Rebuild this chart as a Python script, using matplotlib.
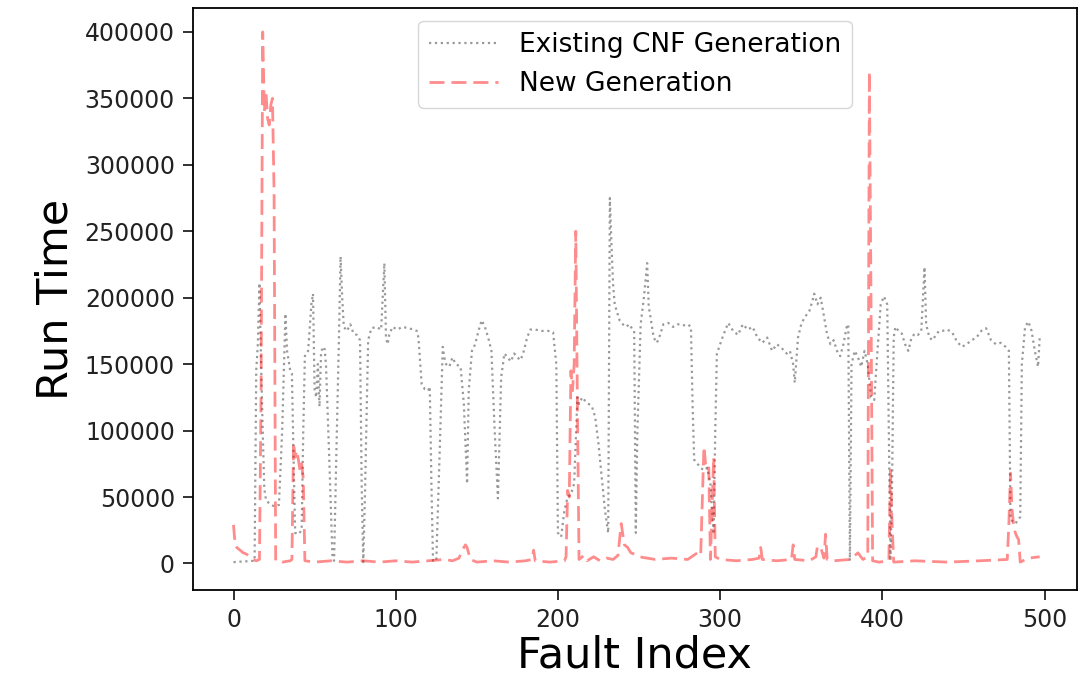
import numpy as np
import matplotlib
matplotlib.use("Agg")
import matplotlib.pyplot as plt

# run times in thousands at the visible break points
old_x = [0, 13, 14, 15, 16, 17, 18, 19, 20, 22, 25, 28, 30, 32, 33, 35, 36, 37, 38, 40, 42, 43, 44, 46, 48, 49,
         50, 51, 52, 53, 54, 56, 57, 59, 61, 62, 63, 65, 66, 67, 68, 70, 72, 74, 76, 78, 79, 80, 81, 83, 85, 88,
         91, 93, 94, 95, 96, 98, 101, 104, 108, 111, 113, 114, 116, 118, 120, 121, 122, 123, 125, 127, 129, 130,
         131, 133, 135, 137, 140, 142, 144, 145, 147, 149, 151, 153, 155, 157, 159, 161, 163, 165, 167, 169, 171,
         173, 175, 177, 179, 181, 183, 186, 190, 194, 197, 199, 200, 202, 204, 206, 208, 210, 212, 213, 215, 217,
         219, 221, 223, 225, 227, 229, 231, 232, 233, 234, 235, 236, 238, 240, 242, 244, 246, 247, 248, 249, 251,
         253, 255, 256, 257, 259, 261, 263, 265, 268, 271, 274, 277, 280, 282, 283, 284, 286, 288, 290, 292, 294,
         296, 297, 298, 300, 302, 305, 308, 311, 314, 317, 320, 323, 326, 329, 332, 335, 338, 341, 343, 345, 346,
         348, 350, 352, 355, 357, 358, 360, 362, 364, 366, 368, 370, 372, 374, 376, 378, 379, 380, 381, 383, 385,
         387, 389, 391, 393, 395, 397, 399, 401, 403, 404, 405, 406, 407, 408, 410, 412, 414, 416, 418, 420, 422,
         424, 426, 427, 429, 431, 433, 435, 437, 440, 443, 446, 449, 452, 455, 458, 461, 464, 467, 470, 473, 476,
         478, 479, 482, 485, 486, 488, 490, 492, 494, 496, 497]
old_y = [1, 2, 145, 165, 211, 150, 100, 56, 48, 45, 43, 44, 100, 188, 160, 145, 143, 80, 23, 22, 25, 100, 156, 160, 195, 203,
         131, 125, 150, 118, 160, 163, 150, 80, 5, 2, 60, 170, 231, 200, 178, 175, 180, 173, 172, 168, 60, 1, 50, 168, 177, 178,
         176, 226, 170, 165, 172, 178, 176, 178, 177, 176, 175, 170, 135, 131, 130, 133, 60, 2, 2, 80, 163, 155,
         150, 148, 155, 150, 148, 120, 60, 130, 160, 165, 175, 183, 178, 170, 160, 100, 49, 140, 158, 155, 152,
         158, 155, 153, 160, 170, 176, 176, 175, 175, 174, 150, 23, 20, 40, 50, 52, 60, 125, 120, 125, 122,
         120, 118, 110, 90, 65, 40, 23, 275, 240, 210, 195, 191, 183, 180, 178, 180, 176, 175, 23, 100, 180,
         200, 226, 193, 186, 170, 166, 172, 180, 181, 178, 180, 179, 180, 178, 120, 78, 75, 72, 70, 72, 60,
         22, 100, 158, 165, 172, 181, 175, 172, 180, 176, 178, 170, 166, 170, 160, 165, 162, 158, 160, 150, 136,
         170, 180, 185, 190, 198, 203, 195, 200, 186, 172, 165, 168, 160, 156, 165, 178, 180, 2, 150, 160, 155,
         148, 160, 150, 125, 123, 160, 195, 201, 195, 100, 2, 60, 170, 178, 175, 173, 165, 160, 170, 173, 172,
         175, 223, 180, 170, 168, 172, 175, 175, 176, 174, 167, 163, 165, 168, 170, 175, 177, 168, 165, 166, 163,
         160, 33, 30, 35, 150, 178, 182, 175, 160, 148, 170]

new_x = [0, 1, 2, 4, 6, 8, 10, 12, 14, 16, 17, 18, 19, 20, 21, 22, 23, 24, 25, 26, 27, 30, 35, 36, 37, 38, 39, 40,
         41, 42, 43, 44, 50, 60, 70, 80, 90, 100, 110, 120, 130, 135, 139, 141, 143, 144, 146, 150, 160, 170, 180,
         184, 185, 186, 195, 204, 205, 206, 207, 208, 209, 210, 211, 212, 213, 216, 218, 222, 226, 230, 234, 237,
         239, 241, 243, 245, 247, 250, 255, 260, 270, 280, 286, 288, 290, 291, 292, 293, 294, 295, 296, 297, 300,
         310, 320, 324, 325, 326, 335, 344, 345, 346, 355, 359, 360, 362, 364, 365, 366, 370, 380, 385, 388, 391,
         392, 393, 394, 398, 404, 405, 406, 407, 420, 440, 460, 477, 478, 479, 480, 481, 482, 483, 484, 485, 490, 497]
new_y = [29, 14, 12, 10, 8, 7, 5, 3, 2, 3, 130, 400, 340, 355, 335, 330, 345, 350, 280, 2, 2, 1, 2, 3, 91, 80, 85, 78,
         70, 75, 64, 2, 1, 2, 1, 2, 1, 2, 1, 2, 3, 2, 4, 10, 14, 12, 3, 1, 2, 1, 2,
         3, 10, 2, 1, 2, 5, 55, 50, 145, 130, 150, 250, 120, 3, 6, 2, 5, 2, 4, 3, 6,
         30, 14, 12, 8, 7, 5, 4, 3, 4, 3, 8, 6, 88, 75, 70, 72, 3, 40, 80, 5, 3,
         2, 3, 4, 12, 3, 2, 3, 14, 3, 2, 5, 13, 12, 4, 22, 3, 2, 3, 8, 3, 5,
         370, 200, 2, 1, 2, 70, 30, 1, 2, 1, 2, 3, 30, 68, 40, 28, 23, 20, 18, 1, 4, 5]

old_x = np.array(old_x)
old_y = np.array(old_y) * 1000
new_x = np.array(new_x)
new_y = np.array(new_y) * 1000

fig = plt.figure(figsize=(10.81, 6.84), dpi=100)
ax = fig.add_axes([0.1785, 0.1374, 0.8178, 0.8509])

ax.plot(old_x, old_y, color='k', alpha=0.4, linestyle=':', linewidth=1.6, label="Existing CNF Generation")
ax.plot(new_x, new_y, color='r', alpha=0.45, linestyle='--', linewidth=2.0, dashes=(5.4, 2.5), label="New Generation")

ax.set_xlabel("Fault Index", fontsize=31, labelpad=2)
ax.set_ylabel("Run Time", fontsize=31, labelpad=6)
ax.set_xticks([0, 100, 200, 300, 400, 500])
ax.set_yticks(np.arange(0, 400001, 50000))
ax.tick_params(labelsize=17, length=7, width=1.3, pad=6, colors='#222222')
for s in ax.spines.values():
    s.set_linewidth(1.3)
ax.set_xlim(-25, 520)
ax.set_ylim(-20000, 418000)
ax.legend(loc='upper center', fontsize=19, handlelength=2.6, borderaxespad=0.5)

fig.savefig("out.png", dpi=100)
